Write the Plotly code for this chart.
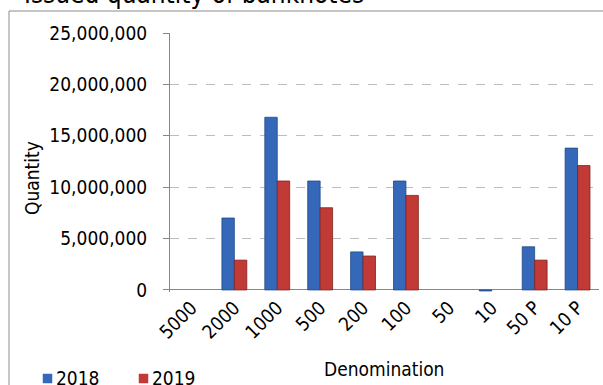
import plotly.graph_objects as go

# Issued quantity of banknotes, by denomination
denominations = ["5000", "2000", "1000", "500", "200", "100", "50", "10", "50 P", "10 P"]
qty_2018 = [0, 7000000, 16800000, 10600000, 3700000, 10600000, 0, -100000, 4200000, 13800000]
qty_2019 = [0, 2900000, 10600000, 8000000, 3300000, 9200000, 0, 0, 2900000, 12100000]
y_ticks = [0, 5000000, 10000000, 15000000, 20000000, 25000000]

FONT = "DejaVu Sans Condensed, DejaVu Sans, sans-serif"
BLUE = "#3568B8"
RED = "#C23A36"

W, H = 603, 385
L, R, T, B = 170, 4, 33, 93
PW, PH = W - L - R, H - T - B


def px(x):
    return (x - L) / PW


def py(y):
    return (H - B - y) / PH


def edge(vals):
    # no outline on empty bars, so they stay invisible
    return [0 if v == 0 else 0.8 for v in vals]


fig = go.Figure()
fig.add_trace(go.Bar(x=denominations, y=qty_2018, name="2018",
                     marker=dict(color=BLUE, line=dict(color="#1F4A8A", width=edge(qty_2018)))))
fig.add_trace(go.Bar(x=denominations, y=qty_2019, name="2019",
                     marker=dict(color=RED, line=dict(color="#7E2220", width=edge(qty_2019)))))

fig.update_layout(
    width=W, height=H,
    margin=dict(l=L, r=R, t=T, b=B, autoexpand=False),
    paper_bgcolor="white", plot_bgcolor="white",
    font=dict(family=FONT, size=19, color="#000000"),
    barmode="group", bargap=0.42, bargroupgap=0,
    showlegend=False,
)

fig.update_yaxes(
    range=[-200000, 25000000], tickvals=y_ticks, tickformat=",d",
    showgrid=True, gridcolor="#BDBDBD", griddash="dash", gridwidth=1,
    showline=True, linecolor="#868686", linewidth=1,
    ticks="outside", ticklen=6, tickcolor="#868686", ticklabelstandoff=12,
    zeroline=True, zerolinecolor="#868686", zerolinewidth=1,
    tickfont=dict(size=19), automargin=False,
)
fig.update_xaxes(
    tickangle=-45, showline=False, ticks="", tickfont=dict(size=19),
    automargin=False,
)

# outer chart border (right and bottom edges fall outside the picture)
fig.add_shape(type="rect", xref="paper", yref="paper",
              x0=px(9), x1=px(620), y0=py(400), y1=py(11),
              line=dict(color="#8C8C8C", width=1), fillcolor="rgba(0,0,0,0)",
              layer="above")

# title (cut off at the top in the reference)
fig.add_annotation(text="Issued quantity of banknotes", xref="paper", yref="paper",
                   x=px(22), y=py(11), xanchor="left", yanchor="bottom",
                   showarrow=False, font=dict(size=26))

# axis titles
fig.add_annotation(text="Quantity", xref="paper", yref="paper",
                   x=px(32), y=py(178), xanchor="center", yanchor="middle",
                   textangle=-90, showarrow=False, font=dict(size=19))
fig.add_annotation(text="Denomination", xref="paper", yref="paper",
                   x=px(384), y=py(369), xanchor="center", yanchor="middle",
                   showarrow=False, font=dict(size=19))

# legend
for sx, colr, lab in [(43, BLUE, "2018"), (139, RED, "2019")]:
    fig.add_shape(type="rect", xref="paper", yref="paper",
                  x0=px(sx), x1=px(sx + 9), y0=py(383), y1=py(374),
                  fillcolor=colr, line=dict(color=colr, width=0.5))
    fig.add_annotation(text=lab, xref="paper", yref="paper",
                       x=px(sx + 11), y=py(378), xanchor="left", yanchor="middle",
                       showarrow=False, font=dict(size=19))

fig.write_html("out.html", config={"displayModeBar": False},
               post_script="document.body.style.margin='0';")
